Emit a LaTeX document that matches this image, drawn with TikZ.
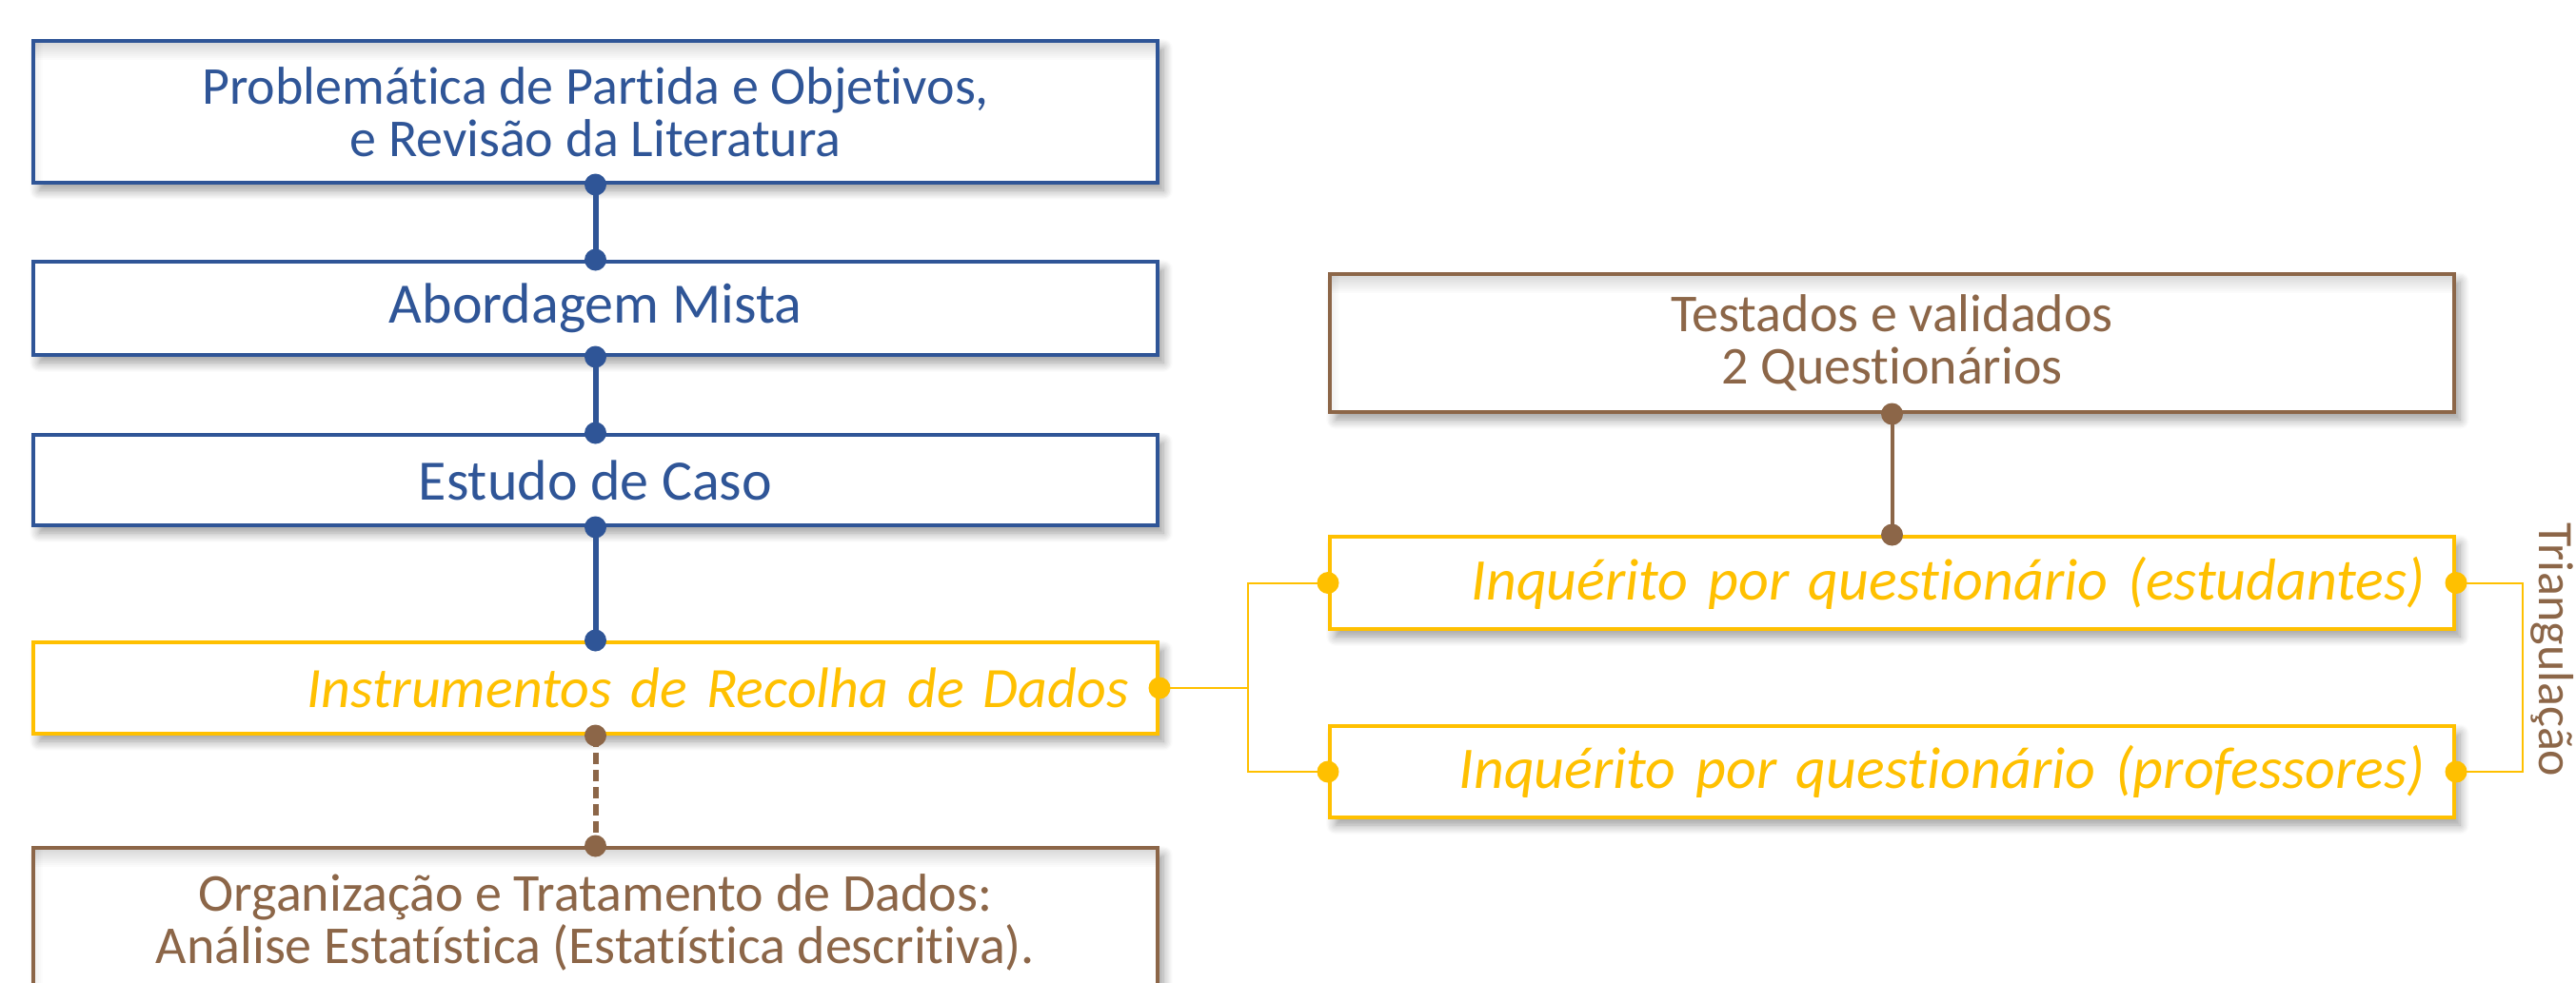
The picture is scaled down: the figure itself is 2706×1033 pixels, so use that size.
\documentclass[tikz,border=0pt]{standalone}
\usepackage{fontspec}
\setmainfont{Carlito}[Ligatures={NoCommon,NoRare,NoContextual}]
\usetikzlibrary{shadows.blur,calc}
\definecolor{cblue}{HTML}{2F5597}
\definecolor{cyel}{HTML}{FFC000}
\definecolor{cbrown}{HTML}{8C6648}
\newcommand\mytightls{\lineskiplimit -20pt\relax}
\tikzset{
  box/.style={draw, line width=2pt, fill=white, minimum width=590.5pt, inner sep=0pt,
    align=center, font=\fontsize{28}{27.5}\selectfont\mytightls,
    blur shadow={shadow xshift=3pt, shadow yshift=-4pt, shadow blur radius=5pt, shadow blur steps=8, shadow opacity=40}},
  innershadow/.style={path picture={
    \foreach \i in {1,...,10}
      \fill[black, opacity=0.014] (path picture bounding box.north west) rectangle ([yshift=-\i pt]path picture bounding box.north east);
    \foreach \i in {1,...,5}
      \fill[black, opacity=0.012] (path picture bounding box.north west) rectangle ([xshift=\i pt]path picture bounding box.south west);
  }},
  bluebox/.style={box, draw=cblue, text=cblue},
  brbox/.style={box, draw=cbrown, text=cbrown},
  ybox/.style={box, draw=cyel, text=cyel, font=\fontsize{30}{30}\selectfont\itshape,
    align=right, text width=560pt, inner xsep=15.25pt},
  bline/.style={draw=cblue, line width=3pt},
  brline/.style={draw=cbrown, line width=2pt},
  brdash/.style={draw=cbrown, line width=3pt, dash pattern=on 6pt off 3pt},
  yline/.style={draw=cyel, line width=1pt},
}
\begin{document}
\begin{tikzpicture}[x=0.5pt,y=-0.5pt]
\useasboundingbox (0,0) rectangle (2706,1033);
\clip (0,0) rectangle (2706,1033);
% left column
\node[bluebox, innershadow, minimum height=74.5pt] (b1) at (625.5,117.5) {Problemática de Partida e Objetivos,\\ e Revisão da Literatura};
\node[bluebox, minimum height=49pt, font=\fontsize{30}{30}\selectfont] (b2) at (625.5,324) {Abordagem Mista};
\node[bluebox, minimum height=47.5pt, font=\fontsize{30}{30}\selectfont] (b3) at (625.5,504.5) {Estudo de Caso};
\node[ybox, minimum height=48pt] (b4) at (625.5,723) {Instrumentos de Recolha de Dados};
\node[brbox, innershadow, minimum height=78.5pt] (b5) at (625.5,969.5) {Organização e Tratamento de Dados:\\ Análise Estatística (Estatística descritiva).};
% right column
\node[brbox, innershadow, minimum height=72.5pt] (r1) at (1987.5,360.5) {Testados e validados\\ 2 Questionários};
\node[ybox, minimum height=48.5pt, font=\fontsize{31}{31}\selectfont\itshape] (r2) at (1987.5,612.5) {Inquérito por questionário (estudantes)};
\node[ybox, minimum height=48pt, font=\fontsize{31}{31}\selectfont\itshape] (r3) at (1987.5,811) {Inquérito por questionário (professores)};
% connectors
\draw[bline] (b1.south) -- (b2.north);
\draw[bline] (b2.south) -- (b3.north);
\draw[bline] (b3.south) -- (b4.north);
\draw[brdash] (b4.south) -- (b5.north);
\draw[brline] (r1.south) -- (r2.north);
\coordinate (yj) at (1311,723);
\draw[yline] (b4.east) -- (yj) |- (r2.west);
\draw[yline] (yj) |- (r3.west);
\coordinate (tj) at (2650,713);
\draw[yline] (r2.east) -- (r2.east -| tj) -- (r3.east -| tj) -- (r3.east);
\node[rotate=-90, text=cbrown, font=\fontsize{26}{26}\selectfont, inner sep=0pt] (tri) at (2681,683) {Triangulação};
% dots
\foreach \p in {b1.south,b2.north,b2.south,b3.north,b3.south,b4.north}
  \fill[cblue] (\p) circle (5.75pt);
\foreach \p in {b4.south,b5.north,r1.south,r2.north}
  \fill[cbrown] (\p) circle (5.75pt);
\foreach \p in {b4.east,r2.west,r2.east,r3.west,r3.east}
  \fill[cyel] (\p) circle (5.75pt);
\end{tikzpicture}
\end{document}
